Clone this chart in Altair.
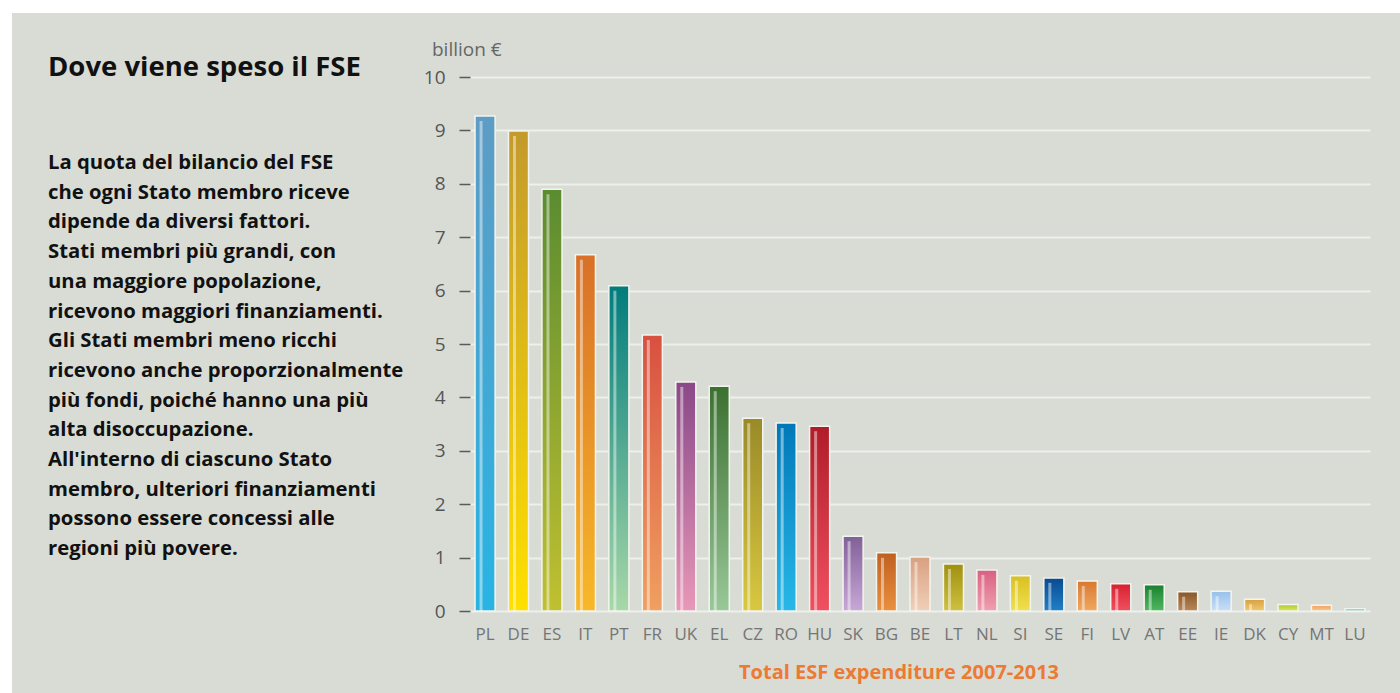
import altair as alt
import pandas as pd

countries = ["PL", "DE", "ES", "IT", "PT", "FR", "UK", "EL", "CZ", "RO", "HU", "SK", "BG", "BE",
             "LT", "NL", "SI", "SE", "FI", "LV", "AT", "EE", "IE", "DK", "CY", "MT", "LU"]
values = [9.27, 8.99, 7.90, 6.67, 6.09, 5.17, 4.29, 4.21, 3.61, 3.52, 3.46, 1.40, 1.09, 1.01,
          0.88, 0.77, 0.66, 0.62, 0.56, 0.51, 0.49, 0.36, 0.37, 0.22, 0.12, 0.11, 0.04]
top_colors = ["#5e9cc4", "#c39a2c", "#5a8c30", "#d87028", "#007c7c", "#d85040", "#8a4888",
              "#3c7030", "#9a8a28", "#0078b8", "#b01c28", "#806098", "#c06020", "#d8a080",
              "#a09010", "#d86080", "#d8c020", "#0a4a90", "#d87830", "#d82030", "#1a8030",
              "#8a5828", "#98c0e8", "#d8a040", "#b0c830", "#f0a060", "#3aa8b0"]
bottom_colors = ["#28b4e4", "#ffe000", "#c0c030", "#f8b828", "#a8d8a8", "#f0a060", "#e898b8",
                 "#98c898", "#d8c840", "#28b8e8", "#f05060", "#c8a8d8", "#e89040", "#f0d0b8",
                 "#d0c040", "#f0a0b0", "#f0e050", "#2080c8", "#f0a860", "#f05060", "#50b860",
                 "#b88858", "#c8e0f8", "#f0c870", "#d8e860", "#f8c890", "#50c0c8"]
y_ticks = [0, 1, 2, 3, 4, 5, 6, 7, 8, 9, 10]

title_text = "Dove viene speso il FSE"
body_lines = [
    "La quota del bilancio del FSE",
    "che ogni Stato membro riceve",
    "dipende da diversi fattori.",
    "Stati membri più grandi, con",
    "una maggiore popolazione,",
    "ricevono maggiori finanziamenti.",
    "Gli Stati membri meno ricchi",
    "ricevono anche proporzionalmente",
    "più fondi, poiché hanno una più",
    "alta disoccupazione.",
    "All'interno di ciascuno Stato",
    "membro, ulteriori finanziamenti",
    "possono essere concessi alle",
    "regioni più povere.",
]
unit_text = "billion €"
x_title = "Total ESF expenditure 2007-2013"

df = pd.DataFrame({"country": countries, "value": values})

W, H = 900, 534
PAD_L, PAD_T = 470, 77

x_enc = alt.X("country:N", sort=countries,
              scale=alt.Scale(domain=countries, paddingInner=0.4, paddingOuter=0.15),
              axis=alt.Axis(title=None, domain=False, ticks=False, labelAngle=0,
                            labelFont="Open Sans", labelFontSize=17, labelColor="#757575",
                            labelPadding=15))
y_scale = alt.Scale(domain=[0, 10], nice=False)
y_enc = alt.Y("value:Q", scale=y_scale,
              axis=alt.Axis(title=None, values=y_ticks, domain=False, ticks=True,
                            tickSize=11, tickColor="#5a5a5a", tickWidth=1.5,
                            labelFont="Open Sans", labelFontSize=19, labelColor="#555555",
                            labelPadding=14, grid=True, gridColor="#eef0eb", gridWidth=2))

dummy = alt.Data(values=[{}])

strip_top = alt.Chart(dummy).mark_rect(color="white").encode(
    x=alt.value(-PAD_L), x2=alt.value(1400 - PAD_L),
    y=alt.value(-PAD_T), y2=alt.value(13 - PAD_T))
strip_left = alt.Chart(dummy).mark_rect(color="white").encode(
    x=alt.value(-PAD_L), x2=alt.value(12 - PAD_L),
    y=alt.value(-PAD_T), y2=alt.value(693 - PAD_T))

axis_layer = alt.Chart(df).mark_bar(opacity=0).encode(x=x_enc, y=y_enc)

bar_layers = []
for c, top, bot in zip(countries, top_colors, bottom_colors):
    grad = alt.LinearGradient(
        gradient="linear",
        stops=[alt.GradientStop(offset=0, color=top), alt.GradientStop(offset=1, color=bot)],
        x1=0, x2=0, y1=0, y2=1)
    bar_layers.append(
        alt.Chart(df).transform_filter(alt.datum.country == c)
        .mark_bar(fill=grad, stroke="#f4f4ee", strokeWidth=1.5)
        .encode(x=x_enc, y=y_enc))

stripe = alt.Chart(df).transform_filter(alt.datum.value > 0.2).mark_rule(
    color="white", opacity=0.45, strokeWidth=3, xOffset=-4, yOffset=5).encode(
    x=x_enc, y=y_enc, y2=alt.datum(0))

title = alt.Chart(dummy).mark_text(
    text=title_text, font="Open Sans", fontSize=27.5, fontWeight="bold", color="#111111",
    align="left", baseline="alphabetic").encode(x=alt.value(48 - PAD_L), y=alt.value(76 - PAD_T))

body = alt.Chart(dummy).mark_text(
    text=body_lines, font="Open Sans", fontSize=20.3, fontWeight="bold", color="#111111",
    align="left", baseline="middle", lineHeight=29.7).encode(
    x=alt.value(48 - PAD_L), y=alt.value(163 - PAD_T))

unit = alt.Chart(dummy).mark_text(
    text=unit_text, font="Open Sans", fontSize=19, color="#666666",
    align="left", baseline="middle").encode(x=alt.value(432 - PAD_L), y=alt.value(50 - PAD_T))

xtitle = alt.Chart(dummy).mark_text(
    text=x_title, font="Open Sans", fontSize=20, fontWeight="bold", color="#ec7a32",
    align="center", baseline="middle").encode(x=alt.value(899 - PAD_L), y=alt.value(673 - PAD_T))

chart = alt.layer(strip_top, strip_left, axis_layer, *bar_layers, stripe, title, body, unit,
                  xtitle).properties(
    width=W, height=H,
    autosize=alt.AutoSizeParams(type="none"),
    padding={"left": PAD_L, "top": PAD_T, "right": 1400 - PAD_L - W, "bottom": 693 - PAD_T - H},
    background="#d8dcd5",
).configure_view(stroke=None)

chart.save("out.html", embed_options={"renderer": "svg", "actions": False})
